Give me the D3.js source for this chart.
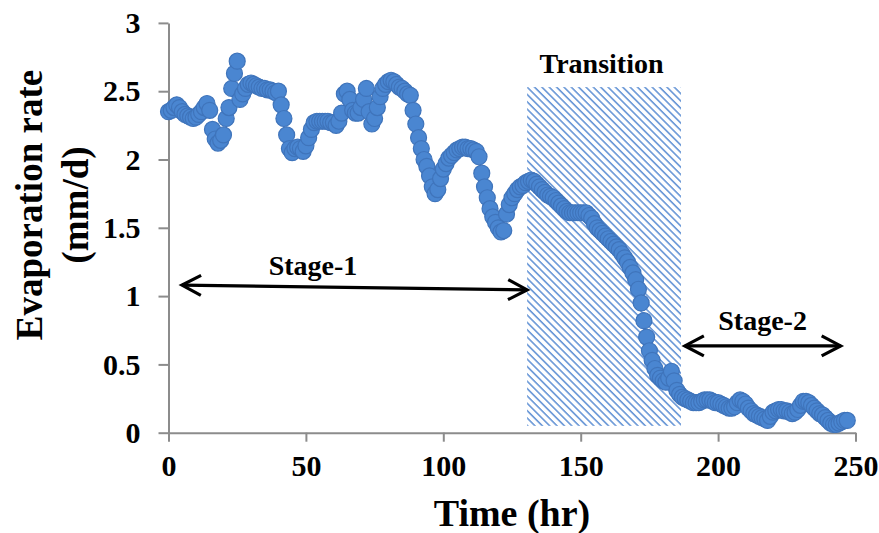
<!DOCTYPE html>
<html>
<head>
<meta charset="utf-8">
<script src="https://cdn.jsdelivr.net/npm/d3@7"></script>
<style>
  body { margin: 0; background: #fff; }
  svg { display: block; }
  text { font-family: "Liberation Serif", "Times New Roman", serif; font-weight: bold; fill: #000; }
</style>
</head>
<body>
<svg id="chart" width="879" height="533"></svg>
<script>
// Elapsed time of each reading (hr)
const timeHr = [
  0, 1, 2, 3, 4, 5, 6, 7, 8, 9,
  10, 11, 12, 13, 14, 15, 16, 17, 18, 19,
  20, 21, 22, 23, 24, 25, 26, 27, 28, 29,
  30, 31, 32, 33, 34, 35, 36, 37, 38, 39,
  40, 41, 42, 43, 44, 45, 46, 47, 48, 49,
  50, 51, 52, 53, 54, 55, 56, 57, 58, 59,
  60, 61, 62, 63, 64, 65, 66, 67, 68, 69,
  70, 71, 72, 73, 74, 75, 76, 77, 78, 79,
  80, 81, 82, 83, 84, 85, 86, 87, 88, 89,
  90, 91, 92, 93, 94, 95, 96, 97, 98, 99,
  100, 101, 102, 103, 104, 105, 106, 107, 108, 109,
  110, 111, 112, 113, 114, 115, 116, 117, 118, 119,
  120, 121, 122, 123, 124, 125, 126, 127, 128, 129,
  130, 131, 132, 133, 134, 135, 136, 137, 138, 139,
  140, 141, 142, 143, 144, 145, 146, 147, 148, 149,
  150, 151, 152, 153, 154, 155, 156, 157, 158, 159,
  160, 161, 162, 163, 164, 165, 166, 167, 168, 169,
  170, 171, 172, 173, 174, 175, 176, 177, 178, 179,
  180, 181, 182, 183, 184, 185, 186, 187, 188, 189,
  190, 191, 192, 193, 194, 195, 196, 197, 198, 199,
  200, 201, 202, 203, 204, 205, 206, 207, 208, 209,
  210, 211, 212, 213, 214, 215, 216, 217, 218, 219,
  220, 221, 222, 223, 224, 225, 226, 227, 228, 229,
  230, 231, 232, 233, 234, 235, 236, 237, 238, 239,
  240, 241, 242, 243, 244, 245, 246, 247
];

// Measured evaporation rate (mm/d)
const evapRate = [
  2.35, 2.36, 2.38, 2.40, 2.38, 2.35, 2.33, 2.32, 2.31, 2.30,
  2.31, 2.33, 2.35, 2.38, 2.41, 2.36, 2.22, 2.15, 2.12, 2.14,
  2.18, 2.30, 2.38, 2.52, 2.63, 2.72, 2.44, 2.48, 2.52, 2.55,
  2.56, 2.55, 2.54, 2.53, 2.52, 2.52, 2.51, 2.51, 2.50, 2.49,
  2.50, 2.40, 2.30, 2.18, 2.08, 2.05, 2.08, 2.09, 2.08, 2.06,
  2.10, 2.16, 2.22, 2.27, 2.28, 2.28, 2.28, 2.28, 2.28, 2.27,
  2.27, 2.25, 2.28, 2.34, 2.48, 2.50, 2.44, 2.36, 2.34, 2.34,
  2.38, 2.44, 2.52, 2.35, 2.26, 2.30, 2.38, 2.46, 2.52, 2.55,
  2.57, 2.58, 2.57, 2.55, 2.53, 2.52, 2.50, 2.48, 2.47, 2.36,
  2.26, 2.16, 2.08, 2.00, 1.95, 1.88, 1.80, 1.75, 1.78, 1.86,
  1.93, 1.97, 2.01, 2.03, 2.05, 2.07, 2.08, 2.09, 2.09, 2.08,
  2.08, 2.07, 2.06, 2.02, 1.90, 1.80, 1.72, 1.64, 1.58, 1.54,
  1.50, 1.47, 1.48, 1.60, 1.67, 1.72, 1.75, 1.78, 1.80, 1.81,
  1.83, 1.84, 1.85, 1.84, 1.82, 1.80, 1.78, 1.76, 1.74, 1.73,
  1.72, 1.70, 1.68, 1.66, 1.64, 1.62, 1.61, 1.61, 1.61, 1.61,
  1.61, 1.61, 1.61, 1.59, 1.57, 1.53, 1.50, 1.48, 1.46, 1.44,
  1.42, 1.40, 1.38, 1.36, 1.34, 1.31, 1.28, 1.25, 1.21, 1.17,
  1.12, 1.05, 0.95, 0.82, 0.70, 0.60, 0.53, 0.47, 0.42, 0.40,
  0.38, 0.37, 0.40, 0.45, 0.38, 0.31, 0.28, 0.26, 0.25, 0.24,
  0.23, 0.22, 0.22, 0.22, 0.23, 0.24, 0.24, 0.24, 0.23, 0.22,
  0.22, 0.21, 0.20, 0.19, 0.18, 0.18, 0.19, 0.22, 0.24, 0.23,
  0.21, 0.18, 0.16, 0.14, 0.13, 0.12, 0.11, 0.10, 0.09, 0.12,
  0.15, 0.16, 0.17, 0.17, 0.16, 0.16, 0.15, 0.14, 0.15, 0.17,
  0.20, 0.23, 0.23, 0.22, 0.20, 0.18, 0.16, 0.14, 0.13, 0.11,
  0.09, 0.07, 0.06, 0.06, 0.07, 0.08, 0.09, 0.09
];

const xTicks = [0, 50, 100, 150, 200, 250];
const yTicks = [0, 0.5, 1, 1.5, 2, 2.5, 3];

// Drying stages (hr range, arrow height in mm/d)
const transitionSpan = [130.5, 186.5];
const transitionRate = [0.05, 2.53];
const stageNames = ["Stage-1", "Transition", "Stage-2"];
const stage1Arrow = [[4.9, 1.08], [130.5, 1.045]];
const stage2Arrow = [[187.9, 0.635], [244.6, 0.635]];

const svg = d3.select("#chart");
const x = d3.scaleLinear().domain([0, 250]).range([168.5, 855.5]);
const y = d3.scaleLinear().domain([0, 3]).range([432.7, 22.9]);

const defs = svg.append("defs");

// Diagonal hatching for the transition period
const pat = defs.append("pattern")
  .attr("id", "hatch")
  .attr("patternUnits", "userSpaceOnUse")
  .attr("width", 5.2).attr("height", 5.2)
  .attr("patternTransform", "rotate(45)");
pat.append("rect").attr("width", 5.2).attr("height", 5.2).attr("fill", "#fff");
pat.append("rect").attr("width", 5.2).attr("height", 1.6).attr("fill", "#6796d6");

// Open chevron arrowhead
defs.append("marker")
  .attr("id", "chev")
  .attr("viewBox", "-4 -14 28 28")
  .attr("markerUnits", "userSpaceOnUse")
  .attr("markerWidth", 28).attr("markerHeight", 28)
  .attr("refX", 19).attr("refY", 0)
  .attr("orient", "auto-start-reverse")
  .append("path")
  .attr("d", "M0,-10 L19,0 L0,10")
  .attr("fill", "none").attr("stroke", "#000")
  .attr("stroke-width", 3.2).attr("stroke-linejoin", "miter");

svg.append("rect")
  .attr("x", x(transitionSpan[0]))
  .attr("y", y(transitionRate[1]))
  .attr("width", x(transitionSpan[1]) - x(transitionSpan[0]))
  .attr("height", y(transitionRate[0]) - y(transitionRate[1]))
  .attr("fill", "url(#hatch)");

// Axes
function styleAxis(g) {
  g.select(".domain").attr("stroke", "#8c8c8c").attr("stroke-width", 2);
  g.selectAll(".tick line").attr("stroke", "#8c8c8c").attr("stroke-width", 2);
  g.selectAll(".tick text")
    .attr("font-family", "'Liberation Serif', 'Times New Roman', serif")
    .attr("font-weight", "bold").attr("font-size", 30).attr("fill", "#000");
}

svg.append("g")
  .attr("transform", `translate(0,${y(0)})`)
  .call(d3.axisBottom(x).tickValues(xTicks).tickSize(9).tickSizeOuter(0).tickPadding(13).tickFormat(d3.format("d")))
  .call(styleAxis);

svg.append("g")
  .attr("transform", `translate(${x(0)},0)`)
  .call(d3.axisLeft(y).tickValues(yTicks).tickSize(10).tickSizeOuter(0).tickPadding(18).tickFormat(d => String(d)))
  .call(styleAxis);

// Data points
const pts = timeHr.map((t, i) => ({ t, v: evapRate[i] }));
svg.append("g")
  .selectAll("circle")
  .data(pts)
  .join("circle")
  .attr("cx", d => x(d.t))
  .attr("cy", d => y(d.v))
  .attr("r", 8)
  .attr("fill", "#4a86d1")
  .attr("stroke", "#3f74bb")
  .attr("stroke-width", 1.2);

// Stage arrows
[stage1Arrow, stage2Arrow].forEach(a => {
  svg.append("line")
    .attr("x1", x(a[0][0])).attr("y1", y(a[0][1]))
    .attr("x2", x(a[1][0])).attr("y2", y(a[1][1]))
    .attr("stroke", "#000").attr("stroke-width", 3.2)
    .attr("marker-start", "url(#chev)")
    .attr("marker-end", "url(#chev)");
});

// Stage labels
const stageLabelPos = [[52.6, 1.155], [157.6, 2.633], [216.2, 0.752]];
stageNames.forEach((name, i) => {
  svg.append("text")
    .attr("x", x(stageLabelPos[i][0]))
    .attr("y", y(stageLabelPos[i][1]))
    .attr("text-anchor", "middle")
    .attr("font-size", 28)
    .text(name);
});

// Axis titles
svg.append("text")
  .attr("x", 512).attr("y", 526)
  .attr("text-anchor", "middle")
  .attr("font-size", 38)
  .text("Time (hr)");

const yTitle = svg.append("text")
  .attr("transform", "translate(42,205) rotate(-90)")
  .attr("text-anchor", "middle")
  .attr("font-size", 37);
yTitle.append("tspan").attr("x", 0).attr("y", 0).text("Evaporation rate");
yTitle.append("tspan").attr("x", 0).attr("y", 46).text("(mm/d)");
</script>
</body>
</html>
